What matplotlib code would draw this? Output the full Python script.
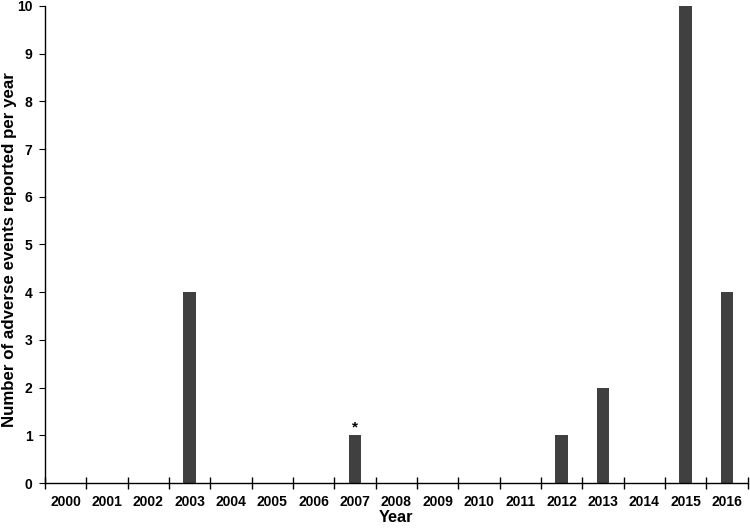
import matplotlib
matplotlib.use("Agg")
import matplotlib.pyplot as plt
import numpy as np

# Données : événements indésirables par année
years = [str(y) for y in range(2000, 2017)]
counts = [0, 0, 0, 4, 0, 0, 0, 1, 0, 0, 0, 0, 1, 2, 0, 10, 4]
starred = ["2007"]

plt.rcParams['font.family'] = ['Liberation Sans', 'DejaVu Sans']
plt.rcParams['font.weight'] = 'bold'

fig = plt.figure(figsize=(7.5, 5.28), dpi=100)
ax = fig.add_axes([0.06, 0.085, 0.937, 0.904])

x = np.arange(len(years))
ax.bar(x, counts, width=0.31, color='#404040', zorder=2)

for name in starred:
    i = years.index(name)
    ax.text(i, counts[i] + 0.02, '*', ha='center', va='bottom', fontsize=11, fontweight='bold')

ax.set_xlim(-0.5, len(years) - 0.5)
ax.set_ylim(0, 10)
ax.set_yticks(range(0, 11))
ax.set_xticks(x)
ax.set_xticklabels(years)
ax.set_xticks(np.arange(-0.5, len(years) + 0.5, 1), minor=True)
ax.tick_params(axis='x', which='major', length=0, pad=8.5, labelsize=10)
ax.tick_params(axis='x', which='minor', direction='inout', length=8, width=1)
ax.tick_params(axis='y', direction='out', length=4, labelsize=10, pad=5)

for s in ['top', 'right']:
    ax.spines[s].set_visible(False)
ax.spines['left'].set_linewidth(1)
ax.spines['bottom'].set_linewidth(1)

ax.set_xlabel('Year', fontsize=11.8, fontweight='bold')
ax.xaxis.set_label_coords(0.5, -0.056)
ax.set_ylabel('Number of adverse events reported per year', fontsize=12.2, fontweight='bold')
ax.yaxis.set_label_coords(-0.04, 0.49)

fig.savefig('out.png', dpi=100)
